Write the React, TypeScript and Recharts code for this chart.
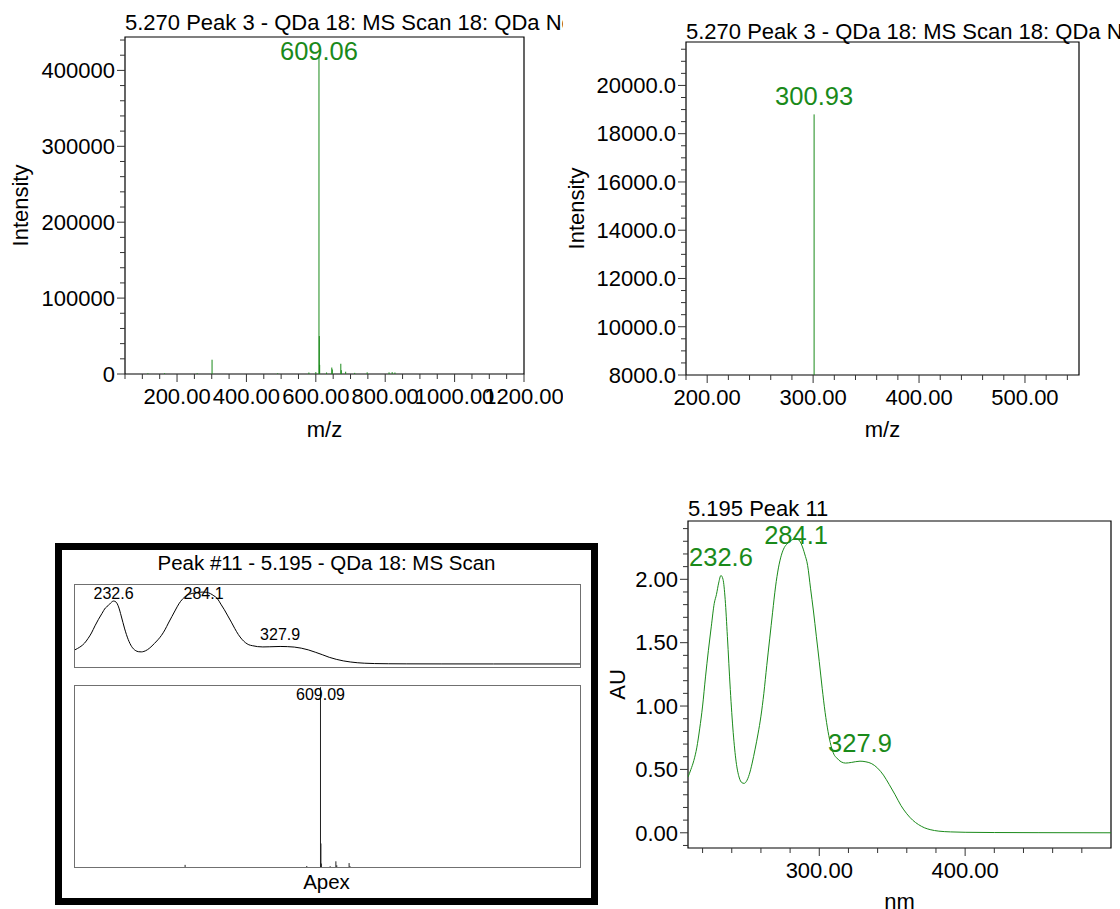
import { LineChart, Line, XAxis, YAxis, ReferenceDot, ReferenceArea } from "recharts"

const FONT = "'Liberation Sans', Arial, sans-serif"
const AXIS_SIZE = 22
const GREEN = "#1a8a1a"

// MS scan 18 at 5.270 min (Peak 3), m/z and intensity
const SCAN_MZ = [116.0, 164.0, 258.0, 300.93, 490.0, 580.0, 600.0, 609.06, 610.07, 611.07, 631.0, 646.0, 647.5, 672.0, 673.5, 686.0, 712.0, 748.0, 811.0, 820.0, 828.0]
const SCAN_INT = [900, 1000, 900, 18800, 900, 2000, 2500, 420000, 50000, 12000, 2000, 8500, 6000, 13500, 5000, 3000, 1500, 2200, 2200, 2500, 2000]

// apex MS spectrum of Peak #11
const APEX_MZ = [88, 179, 302, 578, 609.09, 610.1, 611.1, 631, 644, 646, 674, 676, 726, 798, 842, 880]
const APEX_INT = [800, 800, 7000, 4500, 405000, 55000, 10000, 4000, 15000, 6000, 11000, 4000, 2000, 2000, 2000, 2000]

// PDA spectrum of Peak 11 at 5.195 min
const UV_NM = [210, 212, 214, 216, 218, 220, 222, 224, 226, 228, 229.5, 231, 232.6, 234, 235.5, 237, 239, 241, 243, 245, 247, 248.5, 250, 252, 254, 256, 258, 260, 262, 264, 266, 268, 270, 272, 274, 276, 278, 280, 282, 284.1, 286, 288, 290, 292, 294, 296, 298, 300, 302, 304, 306, 308, 310, 312, 315, 318, 322, 327.9, 332, 336, 340, 344, 348, 352, 356, 360, 364, 368, 372, 376, 382, 390, 400, 420, 450, 500]
const UV_AU = [0.44, 0.5, 0.57, 0.67, 0.82, 1.0, 1.23, 1.44, 1.63, 1.81, 1.88, 1.97, 2.03, 2.0, 1.84, 1.55, 1.13, 0.79, 0.56, 0.44, 0.395, 0.39, 0.405, 0.46, 0.55, 0.66, 0.78, 0.92, 1.1, 1.32, 1.53, 1.74, 1.94, 2.09, 2.19, 2.25, 2.28, 2.3, 2.315, 2.32, 2.31, 2.27, 2.2, 2.11, 1.93, 1.75, 1.55, 1.35, 1.14, 0.95, 0.8, 0.69, 0.62, 0.59, 0.56, 0.55, 0.555, 0.565, 0.56, 0.545, 0.51, 0.455, 0.38, 0.3, 0.215, 0.15, 0.1, 0.065, 0.04, 0.025, 0.013, 0.007, 0.004, 0.002, 0.001, 0]

// labelled peaks
const SCAN_FULL_PEAKS = [609.06]
const SCAN_ZOOM_PEAKS = [300.93]
const APEX_PEAKS = [609.09]
const UV_PEAKS = [232.6, 284.1, 327.9]

// axis ranges and tick labels
const MS1_X = [50, 1200]
const MS1_Y = [0, 444000]
const MS1_X_TICKS = [200, 400, 600, 800, 1000, 1200]
const MS1_Y_TICKS = [0, 100000, 200000, 300000, 400000]

const MS2_X = [180, 551]
const MS2_Y = [8000, 21800]
const MS2_X_TICKS = [200, 300, 400, 500]
const MS2_Y_TICKS = [8000, 10000, 12000, 14000, 16000, 18000, 20000]

const UV_X = [210, 500]
const UV_Y = [-0.12, 2.46]
const UV_X_TICKS = [300, 400]
const UV_Y_TICKS = [0, 0.5, 1, 1.5, 2]

const INSET_UV_Y = [-0.13, 2.58]
const INSET_MS_Y = [0, 410000]

function steps(from: number, to: number, step: number) {
  const out: number[] = []
  for (let k = 0; from + k * step <= to + 1e-9; k++) out.push(+(from + k * step).toFixed(6))
  return out
}

function sticks(mz: number[], ints: number[]) {
  const out: { x: number; y: number | null }[] = []
  mz.forEach((m, i) => {
    out.push({ x: m, y: 0 }, { x: m, y: ints[i] }, { x: m, y: null })
  })
  return out
}

const isMajor = (v: number, majors: number[]) => majors.some((m) => Math.abs(m - v) < 1e-6)

function XTick(props: any) {
  const { x, y, payload, majors, fmt } = props
  const major = isMajor(payload.value, majors)
  return (
    <g>
      <line x1={x} x2={x} y1={y} y2={y + (major ? 8 : 5)} stroke="#333" />
      {major ? (
        <text x={x} y={y + 30} textAnchor="middle" fontSize={AXIS_SIZE} fontFamily={FONT} fill="#000">
          {fmt(payload.value)}
        </text>
      ) : null}
    </g>
  )
}

function YTick(props: any) {
  const { x, y, payload, majors, fmt } = props
  const major = isMajor(payload.value, majors)
  return (
    <g>
      <line x1={x - (major ? 8 : 5)} x2={x} y1={y} y2={y} stroke="#333" />
      {major ? (
        <text x={x - 10} y={y + 7.8} textAnchor="end" fontSize={AXIS_SIZE} fontFamily={FONT} fill="#000">
          {fmt(payload.value)}
        </text>
      ) : null}
    </g>
  )
}

function peakLabel(text: string, plotTop: number, size: number, gap: number, clamp: number, color: string) {
  return (props: any) => {
    const vb = props.viewBox || {}
    const cx = vb.x + (vb.width || 0) / 2
    const cy = vb.y + (vb.height || 0) / 2
    return (
      <text x={cx} y={Math.max(cy - gap, plotTop + clamp)} textAnchor="middle" fontSize={size} fontFamily={FONT} fill={color}>
        {text}
      </text>
    )
  }
}

type PlotProps = {
  left: number
  top: number
  width: number
  height: number
  plot: { l: number; t: number; r: number; b: number }
  data: { x: number; y: number | null }[]
  curve: "linear" | "monotone"
  xDomain: number[]
  yDomain: number[]
  xMajors: number[]
  xMinors: number[]
  yMajors: number[]
  yMinors: number[]
  fmtX: (v: number) => string
  fmtY: (v: number) => string
  title: string
  titleBase: number
  xTitle: string
  xTitleBase: number
  yTitle: string
  yTitleX: number
  peaks: { x: number; y: number; text: string }[]
}

function SpectrumPlot(p: PlotProps) {
  const xAxisH = 60
  const cy = (p.plot.t + p.plot.b) / 2
  const cx = (p.plot.l + p.plot.r) / 2
  return (
    <div style={{ position: "absolute", left: p.left, top: p.top, width: p.width, height: p.height }}>
      <LineChart
        width={p.width}
        height={p.height}
        data={p.data}
        margin={{ top: p.plot.t, right: p.width - p.plot.r, bottom: p.height - p.plot.b - xAxisH, left: 0 }}
      >
        <text x={p.plot.l} y={p.titleBase} fontSize={AXIS_SIZE} fontFamily={FONT} fill="#000">
          {p.title}
        </text>
        <text x={cx} y={p.xTitleBase} textAnchor="middle" fontSize={AXIS_SIZE} fontFamily={FONT} fill="#000">
          {p.xTitle}
        </text>
        <text
          x={p.yTitleX}
          y={cy + 7.8}
          transform={`rotate(-90 ${p.yTitleX} ${cy})`}
          textAnchor="middle"
          fontSize={AXIS_SIZE}
          fontFamily={FONT}
          fill="#000"
        >
          {p.yTitle}
        </text>
        <XAxis
          type="number"
          dataKey="x"
          domain={p.xDomain}
          allowDataOverflow
          ticks={p.xMinors}
          interval={0}
          tickSize={0}
          tickMargin={0}
          tickLine={false}
          axisLine={false}
          height={xAxisH}
          tick={<XTick majors={p.xMajors} fmt={p.fmtX} />}
        />
        <YAxis
          type="number"
          domain={p.yDomain}
          allowDataOverflow
          ticks={p.yMinors}
          interval={0}
          tickSize={0}
          tickMargin={0}
          tickLine={false}
          axisLine={false}
          width={p.plot.l}
          tick={<YTick majors={p.yMajors} fmt={p.fmtY} />}
        />
        <ReferenceArea
          x1={p.xDomain[0]}
          x2={p.xDomain[1]}
          y1={p.yDomain[0]}
          y2={p.yDomain[1]}
          fill="none"
          stroke="#000"
          strokeWidth={1.2}
          ifOverflow="visible"
        />
        <Line
          type={p.curve}
          dataKey="y"
          stroke={GREEN}
          strokeWidth={1}
          dot={false}
          activeDot={false}
          connectNulls={false}
          isAnimationActive={false}
        />
        {p.peaks.map((pk) => (
          <ReferenceDot
            key={pk.text}
            x={pk.x}
            y={pk.y}
            r={0}
            fill="none"
            stroke="none"
            label={peakLabel(pk.text, p.plot.t, 25.5, 9.5, 22.5, GREEN)}
          />
        ))}
      </LineChart>
    </div>
  )
}

function InsetPlot(p: {
  left: number
  top: number
  width: number
  height: number
  data: { x: number; y: number | null }[]
  curve: "linear" | "monotone"
  color: string
  xDomain: number[]
  yDomain: number[]
  peaks: { x: number; y: number; text: string }[]
}) {
  return (
    <>
      <div style={{ position: "absolute", left: p.left, top: p.top, width: p.width, height: p.height }}>
        <LineChart width={p.width} height={p.height} data={p.data} margin={{ top: 0, right: 0, bottom: 0, left: 0 }}>
          <XAxis type="number" dataKey="x" domain={p.xDomain} allowDataOverflow hide />
          <YAxis type="number" domain={p.yDomain} allowDataOverflow hide />
          <Line
            type={p.curve}
            dataKey="y"
            stroke={p.color}
            strokeWidth={1}
            dot={false}
            activeDot={false}
            connectNulls={false}
            isAnimationActive={false}
          />
          {p.peaks.map((pk) => (
            <ReferenceDot
              key={pk.text}
              x={pk.x}
              y={pk.y}
              r={0}
              fill="none"
              stroke="none"
              label={peakLabel(pk.text, 0, 16, 6, 15, "#000")}
            />
          ))}
        </LineChart>
      </div>
      <div
        style={{
          position: "absolute",
          left: p.left,
          top: p.top,
          width: p.width,
          height: p.height,
          border: "1.5px solid #707070",
          boxSizing: "border-box",
        }}
      />
    </>
  )
}

const msPeaks = (list: number[], mz: number[], ints: number[]) =>
  list.map((m) => ({ x: m, y: ints[mz.indexOf(m)], text: m.toFixed(2) }))
const uvPeaks = UV_PEAKS.map((n) => ({ x: n, y: UV_AU[UV_NM.indexOf(n)], text: n.toFixed(1) }))

export default function App() {
  const scan = sticks(SCAN_MZ, SCAN_INT)
  const apex = sticks(APEX_MZ, APEX_INT)
  const uv = UV_NM.map((n, i) => ({ x: n, y: UV_AU[i] }))
  const title = "5.270 Peak 3 - QDa 18: MS Scan 18: QDa Ne"

  return (
    <div style={{ position: "absolute", left: 0, top: 0, width: 1120, height: 909, background: "#fff", overflow: "hidden" }}>
      <SpectrumPlot
        left={0}
        top={0}
        width={563}
        height={450}
        plot={{ l: 125, t: 37, r: 524, b: 374 }}
        data={scan}
        curve="linear"
        xDomain={MS1_X}
        yDomain={MS1_Y}
        xMajors={MS1_X_TICKS}
        xMinors={steps(50, 1200, 50)}
        yMajors={MS1_Y_TICKS}
        yMinors={steps(0, 440000, 20000)}
        fmtX={(v) => v.toFixed(2)}
        fmtY={(v) => String(v)}
        title={title}
        titleBase={30}
        xTitle="m/z"
        xTitleBase={437}
        yTitle="Intensity"
        yTitleX={20}
        peaks={msPeaks(SCAN_FULL_PEAKS, SCAN_MZ, SCAN_INT)}
      />
      <SpectrumPlot
        left={563}
        top={0}
        width={557}
        height={450}
        plot={{ l: 123, t: 42, r: 516, b: 375 }}
        data={scan}
        curve="linear"
        xDomain={MS2_X}
        yDomain={MS2_Y}
        xMajors={MS2_X_TICKS}
        xMinors={steps(180, 540, 20)}
        yMajors={MS2_Y_TICKS}
        yMinors={steps(8000, 21500, 500)}
        fmtX={(v) => v.toFixed(2)}
        fmtY={(v) => v.toFixed(1)}
        title={title}
        titleBase={38.5}
        xTitle="m/z"
        xTitleBase={437}
        yTitle="Intensity"
        yTitleX={13}
        peaks={msPeaks(SCAN_ZOOM_PEAKS, SCAN_MZ, SCAN_INT)}
      />
      <SpectrumPlot
        left={563}
        top={480}
        width={557}
        height={429}
        plot={{ l: 125, t: 41, r: 548, b: 368 }}
        data={uv}
        curve="monotone"
        xDomain={UV_X}
        yDomain={UV_Y}
        xMajors={UV_X_TICKS}
        xMinors={steps(220, 480, 20)}
        yMajors={UV_Y_TICKS}
        yMinors={steps(-0.1, 2.4, 0.1)}
        fmtX={(v) => v.toFixed(2)}
        fmtY={(v) => v.toFixed(2)}
        title="5.195 Peak 11"
        titleBase={36}
        xTitle="nm"
        xTitleBase={429}
        yTitle="AU"
        yTitleX={54}
        peaks={uvPeaks}
      />

      <svg style={{ position: "absolute", left: 55, top: 543 }} width={543} height={362}>
        <rect x={3.5} y={3.5} width={536} height={355} fill="#fff" stroke="#000" strokeWidth={7} />
        <text x={271.5} y={27} textAnchor="middle" fontSize={20.5} fontFamily={FONT} fill="#000">
          Peak #11 - 5.195 - QDa 18: MS Scan
        </text>
        <text x={271.5} y={346} textAnchor="middle" fontSize={20.5} fontFamily={FONT} fill="#000">
          Apex
        </text>
      </svg>
      <InsetPlot
        left={74}
        top={584}
        width={507}
        height={84}
        data={uv}
        curve="monotone"
        color="#000"
        xDomain={UV_X}
        yDomain={INSET_UV_Y}
        peaks={uvPeaks}
      />
      <InsetPlot
        left={74}
        top={685}
        width={507}
        height={183}
        data={apex}
        curve="linear"
        color="#222"
        xDomain={MS1_X}
        yDomain={INSET_MS_Y}
        peaks={msPeaks(APEX_PEAKS, APEX_MZ, APEX_INT)}
      />
    </div>
  )
}
